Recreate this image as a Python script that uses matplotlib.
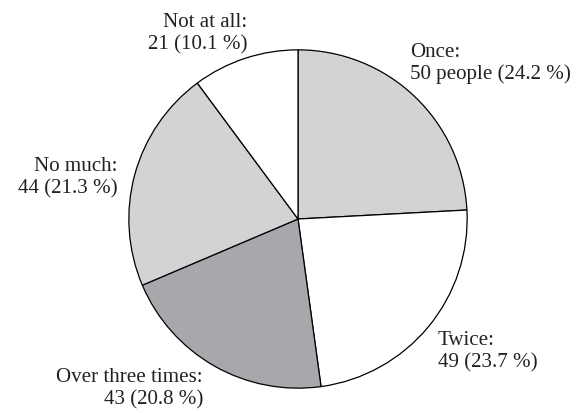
import matplotlib.pyplot as plt

plt.rcParams['font.family'] = ['Liberation Serif', 'DejaVu Serif']

names = ["Once", "Twice", "Over three times", "No much", "Not at all"]
counts = [50, 49, 43, 44, 21]
shares = [24.2, 23.7, 20.8, 21.3, 10.1]
colors = ["#d3d3d5", "#ffffff", "#a7a8ab", "#d3d3d5", "#ffffff"]

# label anchors in pixels: x, first baseline, horizontal alignment
label_x = [410, 438, 203, 118, 247]
label_y = [57, 345, 382, 171, 27]
label_ha = ["left", "left", "right", "right", "right"]

W, H = 583, 414
fig = plt.figure(figsize=(W / 100, H / 100), dpi=100)

cx, cy, r = 298, 220, 170
ax = fig.add_axes([(cx - r) / W, (H - cy - r) / H, 2 * r / W, 2 * r / H])
ax.pie(counts, colors=colors, startangle=90, counterclock=False,
       wedgeprops=dict(edgecolor="black", linewidth=0.9))
ax.set_xlim(-1.005, 1.005)
ax.set_ylim(-1.005, 1.005)
ax.set_aspect("equal")
ax.axis("off")

for i, name in enumerate(names):
    unit = " people" if name == "Once" else ""
    lines = [name + ":", "%d%s (%.1f %%)" % (counts[i], unit, shares[i])]
    for j, line in enumerate(lines):
        fig.text(label_x[i] / W, 1 - (label_y[i] + 22.5 * j) / H, line,
                 ha=label_ha[i], va="baseline", fontsize=15.1, color="#222222")

fig.savefig("out.png", dpi=100)
